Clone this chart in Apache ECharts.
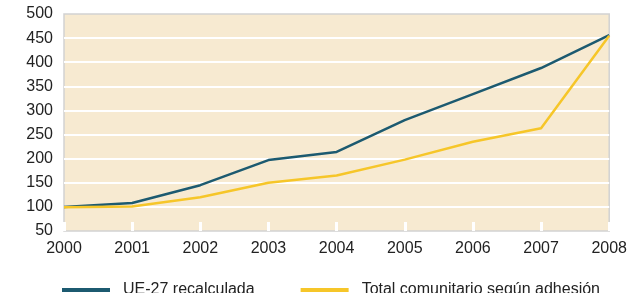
<!DOCTYPE html>
<html>
<head>
<meta charset="utf-8">
<script src="https://cdn.jsdelivr.net/npm/echarts@6/dist/echarts.min.js"></script>
<style>
  html, body { margin: 0; padding: 0; background: #fff; }
  #chart { width: 630px; height: 293px; }
</style>
</head>
<body>
<div id="chart"></div>
<script>
// años
var years = ['2000', '2001', '2002', '2003', '2004', '2005', '2006', '2007', '2008']
// series
var ue27 = [100, 108, 145, 197, 214, 280, 334, 388, 456]
var totalAdhesion = [99, 101, 120, 150, 165, 198, 235, 263, 455]

var chart = echarts.init(document.getElementById('chart'))
chart.setOption({
  animation: false,
  textStyle: { fontFamily: 'Liberation Sans, Arial, sans-serif' },
  grid: {
    left: 64,
    right: 18,
    top: 14,
    bottom: 62,
    show: true,
    backgroundColor: '#f7ead1',
    borderColor: '#d2d2d2',
    borderWidth: 1.5
  },
  legend: {
    left: 57,
    top: 277,
    selectedMode: false,
    icon: 'rect',
    itemWidth: 48,
    itemHeight: 4,
    itemGap: 46,
    textStyle: { fontSize: 16, color: '#222', padding: [0, 0, 0, 8] },
    data: ['UE-27 recalculada', 'Total comunitario según adhesión']
  },
  xAxis: {
    type: 'category',
    boundaryGap: false,
    data: years,
    axisLine: { show: false },
    axisTick: { show: true, inside: true, length: 9, lineStyle: { color: '#fff', width: 3 } },
    axisLabel: { fontSize: 16, color: '#222', margin: 10 },
    splitLine: { show: false }
  },
  yAxis: {
    type: 'value',
    min: 50,
    max: 500,
    interval: 50,
    axisLine: { show: false },
    axisTick: { show: false },
    axisLabel: { fontSize: 16, color: '#222', margin: 11 },
    splitLine: { showMinLine: false, showMaxLine: false, lineStyle: { color: '#fff', width: 2 } }
  },
  series: [
    {
      name: 'UE-27 recalculada',
      type: 'line',
      data: ue27,
      symbol: 'none',
      itemStyle: { color: '#1c5a70' },
      lineStyle: { color: '#1c5a70', width: 2.5 }
    },
    {
      name: 'Total comunitario según adhesión',
      type: 'line',
      data: totalAdhesion,
      symbol: 'none',
      itemStyle: { color: '#f6c629' },
      lineStyle: { color: '#f6c629', width: 2.5 }
    }
  ]
})
</script>
</body>
</html>
